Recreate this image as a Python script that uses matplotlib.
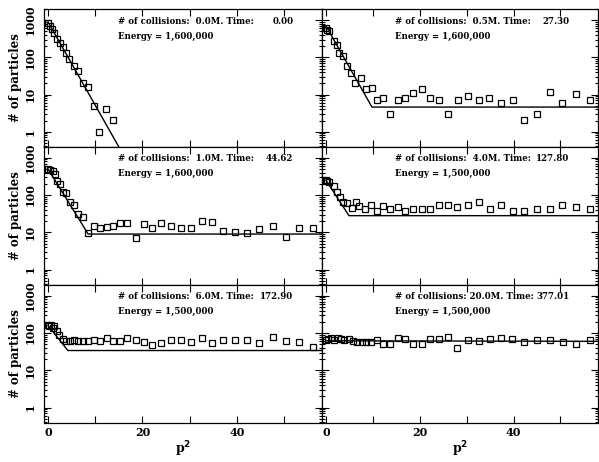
import matplotlib
matplotlib.use("Agg")
import matplotlib.pyplot as plt
from matplotlib.ticker import LogLocator, NullFormatter, FixedLocator

# collisions (millions), times, energies
collisions = [0.0, 0.5, 1.0, 4.0, 6.0, 20.0]
times = ["0.00", "27.30", "44.62", "127.80", "172.90", "377.01"]
energies = ["1,600,000", "1,600,000", "1,600,000", "1,500,000", "1,500,000", "1,500,000"]

# 0.0M
p2_a = [0, 0.4, 0.8, 1.3, 1.9, 2.5, 3.2, 3.8, 4.5, 5.5, 6.4, 7.4, 8.5, 9.8, 10.8, 12.3, 13.7]
n_a = [860, 710, 590, 440, 320, 250, 185, 135, 89, 58, 42, 21, 16, 5, 1, 4, 2.1]
fit_x_a = [0, 15.5]
fit_y_a = [900, 0.3]

# 0.5M
p2_b = [0, 0.3, 0.6, 1.7, 2.3, 2.8, 3.6, 4.4, 5.3, 6.2, 7.4, 8.5, 9.8, 10.9, 12.1, 13.6,
        15.3, 16.8, 18.5, 20.4, 22.1, 24.0, 26.0, 28.1, 30.2, 32.6, 34.7, 37.4, 39.8,
        42.3, 44.9, 47.7, 50.4, 53.4, 56.4]
n_b = [600, 550, 500, 270, 210, 135, 112, 58, 37, 20, 28, 14, 15, 7.1, 8.1, 3.0,
       7.1, 8.1, 11, 14, 8.1, 7.1, 3.0, 7.1, 9.1, 7.1, 8.1, 5.9, 7.1,
       2.1, 3.0, 11.6, 5.9, 10.3, 7.1]
fit_x_b = [0, 9.8, 58]
fit_y_b = [700, 4.6, 4.6]

# 1.0M
p2_c = [0, 0.5, 1.0, 1.5, 1.9, 2.5, 3.2, 3.8, 4.7, 5.5, 6.4, 7.4, 8.5, 9.8, 11.0, 12.5,
        13.8, 15.2, 16.8, 18.6, 20.3, 22.1, 24.0, 26.0, 28.1, 30.2, 32.5, 34.8, 37.1,
        39.5, 42.1, 44.7, 47.6, 50.3, 53.1, 56.1]
n_c = [500, 480, 450, 360, 235, 195, 118, 110, 67, 55, 32, 26, 9.8, 15, 13, 14,
       15, 18, 18, 7, 17, 13, 18, 15, 13, 13, 20, 19, 11,
       10.3, 9.6, 12, 15, 7.5, 13, 13]
fit_x_c = [0, 8.5, 58]
fit_y_c = [500, 9, 9]

# 4.0M
p2_d = [0, 0.3, 0.6, 1.7, 2.3, 3.0, 3.6, 4.4, 5.5, 6.4, 7.0, 8.3, 9.6, 10.9, 12.1, 13.6,
        15.3, 16.8, 18.5, 20.4, 22.1, 24.0, 26.0, 27.9, 30.2, 32.6, 34.9, 37.4, 39.8,
        42.3, 44.9, 47.7, 50.4, 53.4, 56.4]
n_d = [250, 240, 220, 170, 118, 91, 67, 63, 46, 67, 52, 41, 55, 38, 52, 43,
       49, 38, 41, 41, 43, 55, 55, 49, 55, 67, 41, 55, 38,
       38, 41, 41, 55, 49, 41]
fit_x_d = [0, 4.9, 58]
fit_y_d = [250, 28, 28]

# 6.0M
p2_e = [0, 0.3, 0.6, 1.0, 1.3, 1.9, 2.4, 3.2, 3.8, 4.7, 5.5, 6.4, 7.4, 8.5, 9.8, 11.0,
        12.5, 13.8, 15.2, 16.8, 18.6, 20.3, 22.1, 24.0, 26.0, 28.1, 30.2, 32.5, 34.8,
        37.1, 39.5, 42.1, 44.7, 47.6, 50.3, 53.1, 56.1]
n_e = [165, 150, 160, 140, 150, 110, 86, 71, 63, 63, 67, 63, 63, 63, 67, 63,
       75, 63, 63, 75, 67, 59, 49, 55, 67, 67, 59, 75, 55,
       67, 67, 67, 55, 80, 63, 59, 43]
fit_x_e = [0, 4.2, 58]
fit_y_e = [160, 34, 34]

# 20.0M
p2_f = [0, 0.5, 1.0, 1.7, 2.6, 3.3, 3.8, 5.0, 5.8, 6.7, 7.6, 8.5, 9.7, 10.9, 12.2, 13.6,
        15.3, 16.8, 18.6, 20.4, 22.1, 24.1, 26.0, 27.9, 30.3, 32.6, 34.9, 37.4, 39.7,
        42.3, 45.0, 47.7, 50.5, 53.3, 56.3]
n_f = [64, 69, 72, 64, 75, 69, 64, 69, 61, 58, 56, 56, 58, 64, 50, 50,
       72, 69, 50, 50, 69, 69, 80, 40, 64, 61, 69, 75, 69,
       56, 64, 64, 58, 52, 64]
fit_x_f = [0, 58]
fit_y_f = [62, 60]

panels = [(p2_a, n_a, fit_x_a, fit_y_a), (p2_b, n_b, fit_x_b, fit_y_b),
          (p2_c, n_c, fit_x_c, fit_y_c), (p2_d, n_d, fit_x_d, fit_y_d),
          (p2_e, n_e, fit_x_e, fit_y_e), (p2_f, n_f, fit_x_f, fit_y_f)]

font = "DejaVu Serif"
fig = plt.figure(figsize=(5.99, 4.62), dpi=100)
W, H = 599.0, 462.0
col_x = [44, 322, 598]
row_y = [9, 146.5, 284.5, 422.5]

for i, (x, y, fx, fy) in enumerate(panels):
    r, c = divmod(i, 2)
    ax = fig.add_axes([col_x[c] / W, 1 - row_y[r + 1] / H,
                       (col_x[c + 1] - col_x[c]) / W, (row_y[r + 1] - row_y[r]) / H])
    ax.set_yscale("log")
    ax.plot(fx, fy, color="black", lw=1.0)
    ax.plot(x, y, ls="none", marker="s", ms=4.8, mfc="none", mec="black", mew=0.9)
    ax.set_xlim(-0.85, 58)
    ax.set_ylim(0.4, 2000)

    ax.xaxis.set_major_locator(FixedLocator([0, 10, 20, 30, 40, 50]))
    ax.yaxis.set_major_locator(FixedLocator([1, 10, 100, 1000]))
    ax.yaxis.set_minor_locator(LogLocator(base=10, subs=range(2, 10)))
    ax.yaxis.set_minor_formatter(NullFormatter())
    ax.tick_params(which="both", direction="in", top=True, right=True, width=0.8)
    ax.tick_params(which="major", length=5)
    ax.tick_params(which="minor", length=2.5)
    ax.tick_params(axis="y", which="major", pad=6)
    for s in ax.spines.values():
        s.set_linewidth(0.9)

    if r == 2:
        ax.set_xticklabels(["0", "", "20", "", "40", ""], fontfamily=font,
                           fontweight="bold", fontsize=8)
        ax.set_xlabel("p$^\\mathbf{2}$", fontfamily=font, fontweight="bold",
                      fontsize=9, labelpad=1)
    else:
        ax.set_xticklabels([])
    if c == 0:
        ax.set_yticklabels(["1", "10", "100", "1000"], rotation=90, va="center",
                           fontfamily=font, fontweight="bold", fontsize=8)
        ax.set_ylabel("# of particles", fontfamily=font, fontweight="bold",
                      fontsize=8.5, labelpad=2)
    else:
        ax.set_yticklabels([])

    ax.text(0.266, 0.912, f"# of collisions: {collisions[i]:4.1f}M. Time:",
            transform=ax.transAxes, fontfamily=font, fontweight="bold",
            fontsize=6.2, va="center", ha="left")
    ax.text(0.897, 0.912, times[i], transform=ax.transAxes, fontfamily=font,
            fontweight="bold", fontsize=6.2, va="center", ha="right")
    ax.text(0.266, 0.803, "Energy = " + energies[i], transform=ax.transAxes,
            fontfamily=font, fontweight="bold", fontsize=6.2, va="center", ha="left")

fig.savefig("out.png", dpi=100)
